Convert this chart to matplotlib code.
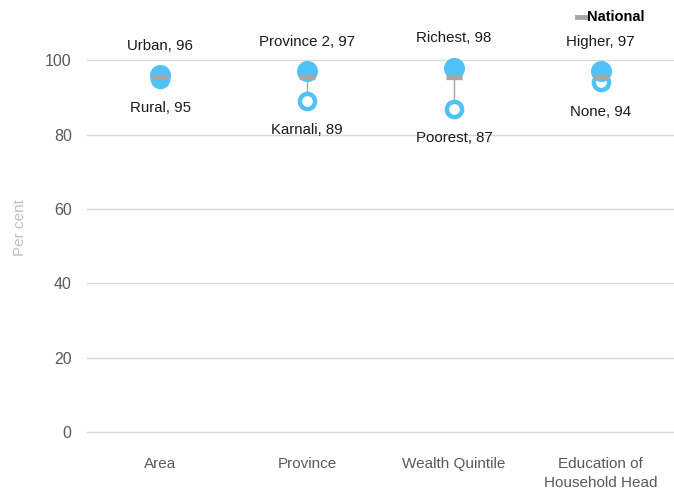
import matplotlib
matplotlib.use("Agg")
import matplotlib.pyplot as plt

categories = ["Area", "Province", "Wealth Quintile", "Education of\nHousehold Head"]
high_labels = ["Urban", "Province 2", "Richest", "Higher"]
high_values = [96, 97, 98, 97]
low_labels = ["Rural", "Karnali", "Poorest", "None"]
low_values = [95, 89, 87, 94]
national = [95.4, 95.4, 95.4, 95.4]
yticks = [0, 20, 40, 60, 80, 100]

plt.rcParams['font.family'] = ["Liberation Sans", "DejaVu Sans"]

blue = "#4FC3F7"
grey = "#A6A6A6"

fig = plt.figure(figsize=(6.74, 4.92), dpi=100)
ax = fig.add_axes([87/674, 1-432/492, 1-87/674, (432-23)/492])
ax.set_xlim(-0.5, 3.5)
ax.set_ylim(0, 110)
for s in ax.spines.values():
    s.set_visible(False)
ax.set_yticks(yticks)
ax.yaxis.grid(True, color="#D9D9D9", linewidth=1)
for gl in ax.get_ygridlines():
    gl.set_clip_on(False)
ax.set_axisbelow(True)
ax.tick_params(axis='y', length=0, pad=11, labelsize=11.5, labelcolor="#595959")
ax.tick_params(axis='x', length=0, pad=18, labelsize=11, labelcolor="#595959")
ax.set_xticks(range(len(categories)))
ax.set_xticklabels(categories, linespacing=1.45)
ax.set_ylabel("Per cent", color="#BFBFBF", fontsize=11, labelpad=13)

xs = list(range(len(categories)))
for x, h, l in zip(xs, high_values, low_values):
    ax.plot([x, x], [l, h], color=grey, linewidth=1, zorder=2)
ax.scatter(xs, low_values, s=120, facecolor="white", edgecolor=blue, linewidths=3.2, zorder=3)
ax.scatter(xs, high_values, s=200, color=blue, zorder=4)
ax.scatter(xs, national, marker="_", s=144, color=grey, linewidths=3.8, zorder=5)

for x, lab, v in zip(xs, high_labels, high_values):
    ax.annotate(f"{lab}, {v}", (x, v), xytext=(0, 21), textcoords="offset points",
                ha="center", va="center", fontsize=10.8, color="#1a1a1a")
for x, lab, v in zip(xs, low_labels, low_values):
    ax.annotate(f"{lab}, {v}", (x, v), xytext=(0, -21), textcoords="offset points",
                ha="center", va="center", fontsize=10.8, color="#1a1a1a")

# legend
fig.lines.append(plt.Line2D([577/674, 585/674], [1-17/492, 1-17/492], color=grey,
                            linewidth=3.5, transform=fig.transFigure))
fig.text(587/674, 1-17/492, "National", fontsize=10.5, fontweight="bold", va="center", ha="left",
         color="#000000")

fig.savefig("out.png", dpi=100)
